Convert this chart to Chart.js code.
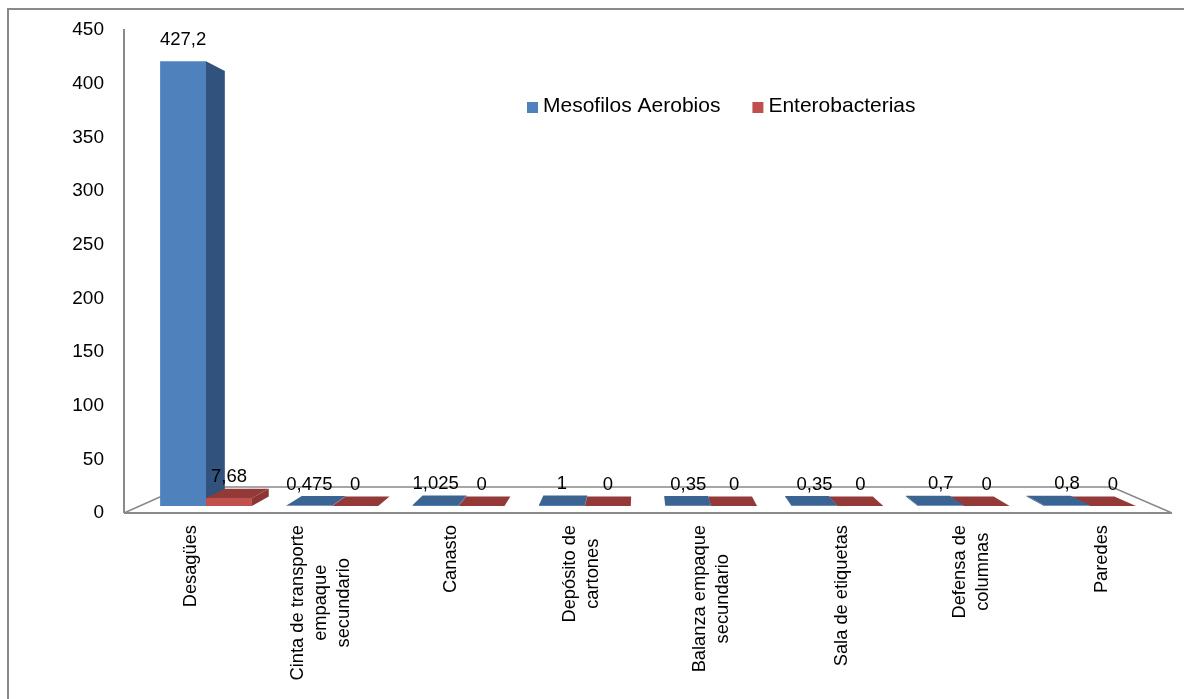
<!DOCTYPE html>
<html>
<head>
<meta charset="utf-8">
<script src="https://cdn.jsdelivr.net/npm/chart.js@4.4.1/dist/chart.umd.min.js"></script>
<style>
  html, body { margin: 0; padding: 0; background: #ffffff; }
  #wrap { width: 1184px; height: 699px; position: relative; }
</style>
</head>
<body>
<div id="wrap"><canvas id="c" width="1184" height="699"></canvas></div>
<script>
// Sampling points (multi-line labels as arrays)
const categories = [
  ['Desagües'],
  ['Cinta de transporte', 'empaque', 'secundario'],
  ['Canasto'],
  ['Depósito de', 'cartones'],
  ['Balanza empaque', 'secundario'],
  ['Sala de etiquetas'],
  ['Defensa de', 'columnas'],
  ['Paredes']
];
const seriesNames = ['Mesofilos Aerobios', 'Enterobacterias'];
const mesofilos = [427.2, 0.475, 1.025, 1, 0.35, 0.35, 0.7, 0.8];
const enterobacterias = [7.68, 0, 0, 0, 0, 0, 0, 0];
const yMin = 0, yMax = 450, yStep = 50;

const FONT = '"Liberation Sans", Arial, sans-serif';
const AXIS_GRAY = '#898989';
const palette = [
  { front: '#4F81BD', side: '#30527C', top: '#3C6493' },
  { front: '#C0504D', side: '#8C3533', top: '#933937' }
];
// depth of the bars inside the floor (fraction toward the vanishing point)
const K_FRONT = 0.030, K_BACK = 0.072, K_FLOOR = 0.113;
// the floor's front edge reaches a little beyond the category band
const FLOOR_LEFT_EXT = 3.5, FLOOR_RIGHT_EXT = 3;

function vanishing(ca) {
  return { x: ca.left + 0.4924 * (ca.right - ca.left), y: ca.bottom - 0.476 * (ca.bottom - ca.top) };
}
function proj(x, y, k, V) { return [x + k * (V.x - x), y + k * (V.y - y)]; }
function poly(ctx, pts, fill) {
  ctx.beginPath();
  ctx.moveTo(pts[0][0], pts[0][1]);
  for (let i = 1; i < pts.length; i++) ctx.lineTo(pts[i][0], pts[i][1]);
  ctx.closePath();
  ctx.fillStyle = fill;
  ctx.fill();
}
function fmt(v) { return String(v).replace('.', ','); }

const frame3d = {
  id: 'frame3d',
  beforeDraw(chart) {
    const ctx = chart.ctx;
    ctx.save();
    ctx.strokeStyle = AXIS_GRAY;
    ctx.lineWidth = 2;
    ctx.beginPath();
    ctx.moveTo(8, 699);
    ctx.lineTo(8, 9);
    ctx.lineTo(1184, 9);
    ctx.stroke();
    ctx.restore();
  },
  beforeDatasetsDraw(chart) {
    // value axis line and floor of the 3-D plot
    const ctx = chart.ctx, ca = chart.chartArea, V = vanishing(ca);
    const x0 = ca.left - FLOOR_LEFT_EXT, x1 = ca.right + FLOOR_RIGHT_EXT;
    const fl = [x0, ca.bottom], fr = [x1, ca.bottom];
    const bl = proj(x0, ca.bottom, K_FLOOR, V), br = proj(x1, ca.bottom, K_FLOOR, V);
    ctx.save();
    ctx.strokeStyle = AXIS_GRAY;
    ctx.lineWidth = 2;
    ctx.beginPath();
    ctx.moveTo(x0, ca.top - 1); ctx.lineTo(x0, ca.bottom);
    ctx.stroke();
    ctx.lineWidth = 1.5;
    ctx.beginPath();
    ctx.moveTo(fl[0], fl[1]); ctx.lineTo(bl[0], bl[1]); ctx.lineTo(br[0], br[1]); ctx.lineTo(fr[0], fr[1]);
    ctx.stroke();
    ctx.lineWidth = 2;
    ctx.beginPath();
    ctx.moveTo(fl[0], fl[1]); ctx.lineTo(fr[0], fr[1]);
    ctx.stroke();
    ctx.restore();
  },
  afterDatasetsDraw(chart) {
    const ctx = chart.ctx, ca = chart.chartArea, V = vanishing(ca);
    const metas = chart.data.datasets.map((d, i) => chart.getDatasetMeta(i));
    const n = chart.data.labels.length;
    ctx.save();
    for (let i = 0; i < n; i++) {
      const groupX = (metas[0].data[i].x + metas[metas.length - 1].data[i].x) / 2;
      let order = metas.map((m, j) => j);
      if (groupX > V.x) order.reverse();
      for (const j of order) {
        const bar = metas[j].data[i];
        const c = palette[j];
        const xl = bar.x - bar.width / 2, xr = bar.x + bar.width / 2;
        const yt = bar.y, yb = bar.base;
        const f = { lt: proj(xl, yt, K_FRONT, V), rt: proj(xr, yt, K_FRONT, V), rb: proj(xr, yb, K_FRONT, V), lb: proj(xl, yb, K_FRONT, V) };
        const b = { lt: proj(xl, yt, K_BACK, V), rt: proj(xr, yt, K_BACK, V), rb: proj(xr, yb, K_BACK, V), lb: proj(xl, yb, K_BACK, V) };
        if (bar.x < V.x) poly(ctx, [f.rt, b.rt, b.rb, f.rb], c.side);
        else poly(ctx, [f.lt, b.lt, b.lb, f.lb], c.side);
        if (yt > V.y) poly(ctx, [f.lt, f.rt, b.rt, b.lt], c.top);
        poly(ctx, [f.lt, f.rt, f.rb, f.lb], c.front);
      }
    }
    // value labels
    ctx.fillStyle = '#000';
    ctx.font = '18.5px ' + FONT;
    ctx.textAlign = 'center';
    ctx.textBaseline = 'middle';
    metas.forEach((m, j) => {
      const vals = chart.data.datasets[j].data;
      m.data.forEach((bar, i) => {
        const p = proj(bar.x, bar.y, K_FRONT, V);
        ctx.fillText(fmt(vals[i]), p[0], p[1] - 21);
      });
    });
    ctx.restore();
  },
  afterDraw(chart) {
    const ctx = chart.ctx, ca = chart.chartArea;
    const metas = chart.data.datasets.map((d, i) => chart.getDatasetMeta(i));
    ctx.save();
    // category labels, rotated and centred
    ctx.fillStyle = '#000';
    ctx.font = '18.3px ' + FONT;
    ctx.textAlign = 'center';
    ctx.textBaseline = 'middle';
    const lh = 23;
    chart.data.labels.forEach((lines, i) => {
      const x = (metas[0].data[i].x + metas[metas.length - 1].data[i].x) / 2 - 2;
      const w = Math.max(...lines.map(s => ctx.measureText(s).width));
      const cy = ca.bottom + 12 + w / 2;
      ctx.save();
      ctx.translate(x, cy);
      ctx.rotate(-Math.PI / 2);
      lines.forEach((s, k) => ctx.fillText(s, 0, (k - (lines.length - 1) / 2) * lh));
      ctx.restore();
    });
    // legend inside the plot
    ctx.font = '21px ' + FONT;
    ctx.textAlign = 'left';
    let lx = 527;
    const ly = 107;
    chart.data.datasets.forEach((d, j) => {
      ctx.fillStyle = palette[j].front;
      ctx.fillRect(lx, ly - 5, 11, 11);
      ctx.fillStyle = '#000';
      ctx.fillText(d.label, lx + 16, ly - 1);
      lx += 16 + ctx.measureText(d.label).width + 32;
    });
    ctx.restore();
  }
};

new Chart(document.getElementById('c'), {
  type: 'bar',
  data: {
    labels: categories,
    datasets: [
      { label: seriesNames[0], data: mesofilos, backgroundColor: 'rgba(0,0,0,0)', borderWidth: 0 },
      { label: seriesNames[1], data: enterobacterias, backgroundColor: 'rgba(0,0,0,0)', borderWidth: 0 }
    ]
  },
  options: {
    responsive: false,
    animation: false,
    devicePixelRatio: 1,
    categoryPercentage: 0.727,
    barPercentage: 1,
    layout: { padding: { top: 30, right: 15, bottom: 186, left: 3.5 } },
    plugins: { legend: { display: false }, tooltip: { enabled: false } },
    scales: {
      x: { display: false, offset: true },
      y: {
        min: yMin, max: yMax,
        afterFit(scale) { scale.width = 124; scale.paddingTop = 12; scale.paddingBottom = 12; },
        grid: { display: false, drawTicks: false },
        border: { display: false },
        ticks: { stepSize: yStep, color: '#000', padding: 23.5, font: { family: FONT, size: 19 } }
      }
    }
  },
  plugins: [frame3d]
});
</script>
</body>
</html>
